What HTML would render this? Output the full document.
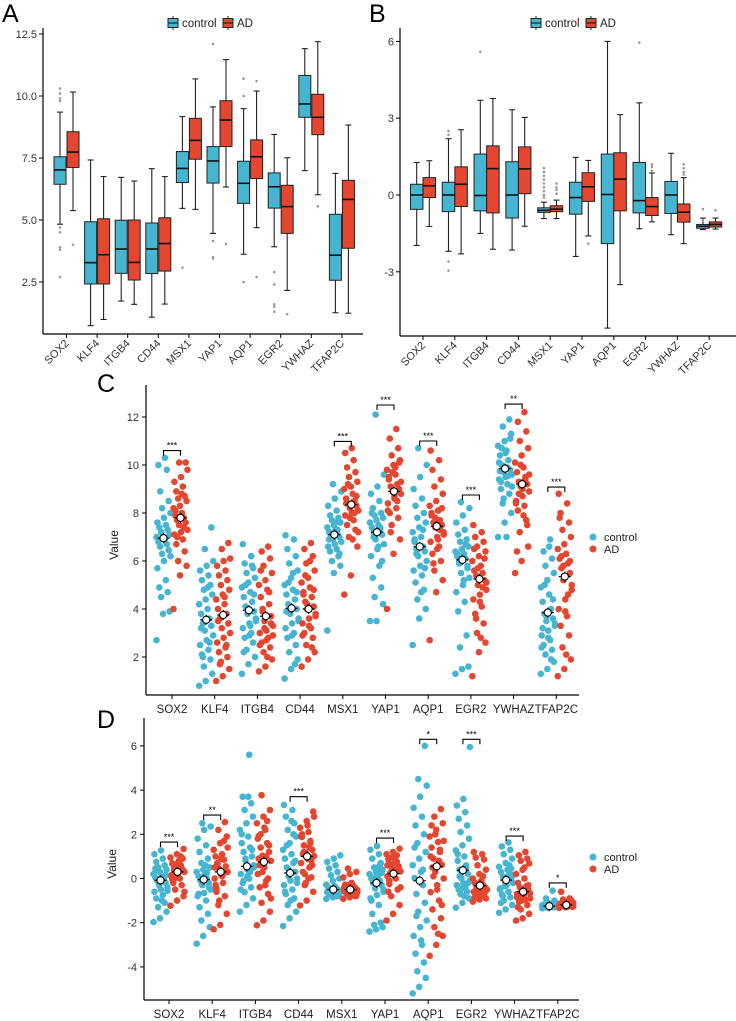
<!DOCTYPE html>
<html><head><meta charset="utf-8">
<style>
html,body{margin:0;padding:0;background:#fff;}
svg{display:block;font-family:"Liberation Sans",Arial,sans-serif;}
</style></head>
<body>
<svg id="fig" width="736" height="1021" viewBox="0 0 736 1021" xmlns="http://www.w3.org/2000/svg"></svg>
<script>
// ---------- shared categories ----------
const genes = ["SOX2","KLF4","ITGB4","CD44","MSX1","YAP1","AQP1","EGR2","YWHAZ","TFAP2C"];
const groups = ["control","AD"];
// ---------- panel A box stats [low, q1, median, q3, high] ----------
const aCtrlBox = [[4.83,6.44,7.02,7.55,9.35],[0.74,2.42,3.28,4.93,7.42],[1.73,2.85,3.83,4.99,6.72],[1.08,2.84,3.83,4.88,7.07],[5.47,6.51,7.08,7.76,9.17],[4.46,6.49,7.38,7.96,9.56],[3.62,5.67,6.48,7.37,9.49],[3.92,5.48,6.34,6.9,8.45],[6.99,9.14,9.68,10.83,11.91],[1.26,2.57,3.58,5.23,6.88]];
const aADBox = [[5.38,7.12,7.74,8.56,10.16],[0.99,2.42,3.6,5.05,6.75],[1.6,2.58,3.29,5.0,6.57],[1.61,2.94,4.05,5.09,6.75],[5.43,7.45,8.21,9.1,10.69],[6.33,7.96,9.03,9.81,11.47],[4.69,6.67,7.55,8.23,10.2],[2.16,4.46,5.54,6.4,7.51],[6.02,8.44,9.14,10.07,12.19],[1.24,3.86,5.83,6.6,8.83]];
const aCtrlOut = [[10.3,10.1,9.9,9.8,4.7,4.5,3.9,3.8,2.7],[],[],[],[3.08],[12.1,4.15,3.5,3.45],[10.7,10.0,2.5],[2.9,2.4,1.6,1.5,1.3],[],[]];
const aADOut = [[4.0],[],[],[],[],[4.03],[10.6,2.7],[1.2],[5.55],[]];
// ---------- panel B box stats ----------
const bCtrlBox = [[-1.97,-0.56,0,0.42,1.27],[-2.2,-0.65,0,0.5,2.2],[-1.5,-0.62,-0.02,1.6,3.7],[-2.15,-0.9,0,1.3,3.33],[-0.92,-0.68,-0.6,-0.5,-0.28],[-2.4,-0.75,-0.1,0.5,1.47],[-5.2,-1.9,0.02,1.6,6.0],[-1.32,-0.7,-0.22,1.27,3.6],[-1.55,-0.72,0,0.53,1.63],[-1.35,-1.3,-1.22,-1.15,-0.9]];
const bADBox = [[-1.23,-0.1,0.36,0.68,1.34],[-2.3,-0.45,0.42,1.1,2.55],[-2.12,-0.7,1.03,1.92,3.77],[-1.22,0.05,1.02,1.88,3.03],[-0.92,-0.65,-0.55,-0.42,-0.2],[-1.6,-0.25,0.32,0.87,1.35],[-3.5,-0.62,0.62,1.65,3.14],[-1.05,-0.8,-0.45,-0.1,0.86],[-1.9,-1.06,-0.67,-0.35,0.68],[-1.33,-1.25,-1.15,-1.05,-0.9]];
const bCtrlOut = [[],[2.5,2.35,-2.6,-2.95],[5.6],[],[1.05,0.9,0.75,0.6,0.45,0.3,0.15,0.0,-0.1],[],[],[5.95],[],[-0.55,-1.0]];
const bADOut = [[],[],[],[],[0.45,0.3,0.2,0.05],[-1.9],[],[1.2,1.1,0.95],[1.2,1.05,0.9,0.8],[-0.6]];
// ---------- panel C points ----------
const cCtrl = [
[2.7,3.8,3.9,4.5,4.7,4.9,5.2,5.7,6.0,6.2,6.3,6.45,6.6,6.7,6.8,6.9,7.0,7.0,7.1,7.2,7.3,7.4,7.5,7.6,7.8,8.0,8.2,8.5,8.9,9.8,10.0,10.3],
[0.8,1.0,1.3,1.6,1.9,2.1,2.3,2.5,2.7,2.9,3.1,3.3,3.4,3.6,3.8,4.0,4.2,4.4,4.6,4.8,5.0,5.2,5.4,5.6,5.8,6.0,6.5,7.4,2.0,2.6,3.2,4.9],
[1.3,1.7,2.0,2.3,2.6,2.8,3.0,3.2,3.4,3.6,3.8,3.9,4.1,4.3,4.5,4.7,4.9,5.1,5.3,5.5,5.7,5.9,6.2,6.7,2.9,3.5,4.0,4.6,5.0,5.8,2.2,3.3],
[1.1,1.5,1.9,2.2,2.5,2.8,3.0,3.2,3.4,3.6,3.8,4.0,4.2,4.4,4.6,4.8,5.0,5.3,5.6,5.9,6.2,6.5,6.9,7.07,2.9,3.5,4.1,4.7,5.1,1.7,3.9,5.5],
[3.1,5.5,5.8,6.0,6.2,6.4,6.5,6.6,6.7,6.8,6.9,7.0,7.05,7.1,7.2,7.3,7.4,7.5,7.6,7.7,7.8,7.9,8.1,8.3,8.6,8.9,9.2,6.3,7.0,7.3,6.9,7.6],
[3.5,3.5,4.2,4.5,4.9,5.3,5.8,6.2,6.5,6.7,6.9,7.1,7.2,7.3,7.4,7.5,7.6,7.7,7.8,7.9,8.0,8.2,8.5,8.8,9.1,9.6,12.1,6.0,7.0,7.4,8.0,6.6],
[2.5,3.6,4.0,4.4,4.8,5.1,5.4,5.6,5.8,6.0,6.2,6.4,6.5,6.6,6.8,7.0,7.2,7.4,7.6,7.8,8.0,8.3,8.6,9.0,9.5,10.0,10.7,5.7,6.3,7.3,6.9,4.7],
[1.3,1.5,1.6,2.4,2.9,3.9,4.3,4.7,5.0,5.3,5.5,5.7,5.9,6.1,6.2,6.3,6.4,6.5,6.6,6.8,6.9,7.1,7.3,7.6,7.9,8.2,8.45,5.8,6.0,6.7,6.3,5.2],
[7.0,7.6,8.0,8.4,8.8,9.0,9.2,9.4,9.5,9.6,9.7,9.8,10.0,10.2,10.4,10.6,10.8,11.0,11.3,11.6,11.9,9.3,9.9,10.1,10.5,9.1,8.6,11.1,10.7,9.55,9.75,7.0],
[1.3,1.5,1.8,2.1,2.3,2.5,2.7,2.9,3.1,3.3,3.5,3.6,3.8,4.0,4.3,4.6,4.9,5.2,5.5,5.8,6.1,6.4,6.9,2.4,2.8,3.4,3.7,4.4,5.0,1.9,3.2,6.6]];
const cAD = [
[4.0,5.4,5.8,6.0,6.4,6.7,6.9,7.1,7.2,7.3,7.5,7.6,7.7,7.8,7.9,8.0,8.2,8.3,8.5,8.6,8.7,8.9,9.1,9.3,9.5,9.8,10.1,10.1,7.0,7.4,8.1,8.8],
[1.0,1.2,1.5,1.8,2.0,2.2,2.4,2.6,2.8,3.0,3.2,3.4,3.6,3.8,4.0,4.2,4.4,4.6,4.8,5.0,5.2,5.4,5.6,5.8,6.0,6.1,6.5,6.75,1.7,2.5,3.5,4.5],
[1.4,1.6,1.9,2.2,2.4,2.6,2.8,3.0,3.1,3.3,3.5,3.7,3.9,4.2,4.5,4.8,5.0,5.2,5.5,5.8,6.1,6.4,6.6,2.5,2.7,2.9,3.2,3.4,4.0,4.7,5.6,2.0],
[1.6,1.9,2.2,2.5,2.8,3.0,3.2,3.4,3.6,3.8,4.0,4.1,4.3,4.5,4.7,4.9,5.1,5.3,5.6,5.9,6.2,6.5,6.75,2.9,3.3,3.7,4.2,4.8,5.4,2.4,4.6,6.0],
[4.6,5.4,6.6,7.0,7.3,7.5,7.7,7.9,8.0,8.1,8.2,8.3,8.4,8.5,8.6,8.8,9.0,9.1,9.3,9.5,9.7,9.9,10.2,10.5,10.7,7.2,7.8,8.7,9.2,8.0,8.4,6.9],
[4.0,6.3,6.9,7.5,7.8,8.0,8.2,8.4,8.6,8.8,8.9,9.0,9.1,9.2,9.4,9.6,9.8,10.0,10.2,10.4,10.7,11.1,11.5,8.1,8.7,9.3,9.7,10.1,7.2,8.5,9.5,9.9],
[2.7,4.7,5.2,5.6,6.0,6.3,6.6,6.8,7.0,7.2,7.4,7.5,7.6,7.7,7.9,8.1,8.3,8.5,8.8,9.1,9.4,9.8,10.2,10.6,6.5,7.1,7.8,8.2,5.9,7.3,8.0,6.9],
[1.2,2.2,2.6,3.0,3.4,3.8,4.1,4.4,4.6,4.8,5.0,5.2,5.4,5.5,5.6,5.8,6.0,6.2,6.4,6.6,6.8,7.0,7.2,7.5,4.3,5.1,5.7,6.1,3.6,4.9,6.5,2.8],
[5.5,6.0,6.6,7.2,7.7,8.1,8.3,8.5,8.7,8.9,9.1,9.2,9.3,9.5,9.7,9.9,10.1,10.4,10.7,11.0,11.4,11.8,12.2,8.4,9.0,9.6,10.0,7.5,8.8,9.4,6.4,7.9],
[1.2,1.5,1.9,2.4,2.9,3.3,3.7,4.0,4.4,4.8,5.2,5.5,5.7,5.9,6.1,6.3,6.5,6.7,7.0,7.3,7.6,8.0,8.4,8.8,3.9,5.0,5.8,6.0,6.2,4.6,7.8,2.1]];
const cCtrlMean = [6.95,3.55,3.95,4.03,7.1,7.2,6.6,6.05,9.85,3.85];
const cADMean = [7.8,3.75,3.7,4.0,8.35,8.9,7.45,5.25,9.2,5.35];
const cSig = ["***","","","","***","***","***","***","**","***"];
const cSigY = [10.6,0,0,0,10.98,12.5,11.0,8.75,12.54,9.08];
const cTicks = [2,4,6,8,10,12];
// ---------- panel D points ----------
const dCtrl = [
[-1.97,-1.8,-1.5,-1.3,-1.1,-0.9,-0.75,-0.6,-0.5,-0.4,-0.3,-0.2,-0.1,0,0.05,0.1,0.2,0.3,0.4,0.5,0.6,0.75,0.9,1.1,1.27,-0.55,-0.25,0.15,0.35,-0.05,0.45,-1.0],
[-2.95,-2.6,-2.2,-1.9,-1.6,-1.3,-1.0,-0.8,-0.65,-0.5,-0.3,-0.2,-0.1,0,0.1,0.2,0.3,0.4,0.5,0.7,0.9,1.2,1.5,1.8,2.2,2.35,2.5,-0.4,0.05,0.25,-0.7,0.6],
[-1.5,-1.2,-0.9,-0.62,-0.4,-0.2,0,0.2,0.4,0.6,0.8,1.0,1.2,1.4,1.6,1.9,2.2,2.5,2.8,3.1,3.4,3.7,5.6,-0.5,0.1,0.5,0.9,1.3,-0.1,0.3,2.0,3.7],
[-2.15,-1.8,-1.5,-1.2,-0.9,-0.7,-0.5,-0.3,-0.1,0,0.1,0.3,0.5,0.7,0.9,1.1,1.3,1.6,1.9,2.2,2.5,2.8,3.1,3.33,-1.0,-0.2,0.4,0.8,1.5,2.0,-0.6,2.6],
[-0.92,-0.85,-0.8,-0.75,-0.7,-0.68,-0.65,-0.62,-0.6,-0.58,-0.55,-0.52,-0.5,-0.45,-0.4,-0.35,-0.28,-0.1,0.0,0.15,0.3,0.45,0.6,0.75,0.9,1.05,-0.6,-0.7,-0.5,-0.8,-0.4,-0.65],
[-2.4,-2.3,-2.2,-2.1,-2.0,-1.6,-1.2,-0.9,-0.75,-0.6,-0.45,-0.3,-0.2,-0.1,0,0.1,0.2,0.3,0.4,0.5,0.7,0.9,1.1,1.3,1.47,-0.5,0.05,0.25,-0.15,0.6,-1.0,0.35],
[-5.2,-4.9,-4.5,-4.2,-3.8,-3.4,-3.0,-2.6,-2.2,-1.9,-1.5,-1.1,-0.7,-0.3,0.02,0.3,0.6,0.9,1.2,1.6,2.0,2.4,2.8,3.2,3.7,4.2,4.5,6.0,-1.7,0.4,1.4,-2.8],
[-1.32,-1.1,-0.9,-0.7,-0.6,-0.5,-0.4,-0.3,-0.22,-0.1,0,0.2,0.4,0.6,0.8,1.0,1.27,1.5,1.8,2.1,2.4,2.7,3.0,3.3,3.6,5.95,-0.45,-0.2,0.1,0.5,1.1,-0.8],
[-1.55,-1.4,-1.2,-1.0,-0.85,-0.72,-0.6,-0.45,-0.3,-0.2,-0.1,0,0.1,0.2,0.3,0.4,0.53,0.7,0.9,1.1,1.3,1.45,1.63,-0.5,-0.05,0.15,-0.35,0.45,-0.8,0.6,-1.1,0.05],
[-1.35,-1.33,-1.3,-1.28,-1.25,-1.22,-1.2,-1.18,-1.15,-1.12,-1.1,-1.0,-0.9,-0.55,-1.27,-1.23,-1.21,-1.19,-1.26,-1.24,-1.3,-1.17,-1.14,-1.29,-1.2,-1.25,-1.32,-1.22,-1.16,-1.28,-1.21,-1.24]];
const dAD = [
[-1.23,-1.0,-0.8,-0.5,-0.3,-0.1,0,0.1,0.2,0.3,0.35,0.4,0.5,0.6,0.68,0.8,0.95,1.1,1.34,0.25,0.45,-0.2,0.55,0.15,0.7,-0.6,0.05,0.9,0.38,1.0,-0.05,0.62],
[-2.3,-2.1,-1.6,-1.2,-0.8,-0.45,-0.2,0,0.15,0.3,0.42,0.55,0.7,0.85,1.0,1.1,1.3,1.6,1.9,2.2,2.55,-0.6,0.2,0.5,0.9,1.4,-1.0,0.35,0.65,1.7,-0.3,0.1],
[-2.12,-1.9,-1.5,-1.1,-0.7,-0.4,-0.1,0.2,0.5,0.8,1.03,1.2,1.4,1.6,1.92,2.2,2.5,2.8,3.1,3.77,0.0,0.6,1.0,1.8,2.3,-0.9,0.3,1.5,2.0,2.6,0.9,-0.3],
[-1.22,-1.0,-0.6,-0.3,0.05,0.3,0.5,0.7,0.9,1.02,1.15,1.3,1.5,1.7,1.88,2.1,2.3,2.6,3.03,0.2,0.8,1.1,1.4,1.9,2.4,2.8,-0.2,0.6,1.2,1.6,2.0,0.0],
[-0.92,-0.85,-0.78,-0.72,-0.68,-0.65,-0.6,-0.57,-0.55,-0.52,-0.48,-0.45,-0.42,-0.35,-0.28,-0.2,0.05,0.2,0.3,0.45,-0.6,-0.5,-0.7,-0.4,-0.55,-0.62,-0.3,-0.8,-0.5,-0.45,-0.58,-0.66],
[-1.9,-1.6,-1.2,-0.8,-0.5,-0.25,0,0.1,0.2,0.32,0.45,0.55,0.65,0.75,0.87,1.0,1.1,1.2,1.35,0.3,0.4,-0.1,0.8,0.6,0.15,-0.4,0.95,0.5,0.25,1.05,-0.6,0.7],
[-3.5,-3.0,-2.6,-2.2,-1.8,-1.4,-1.0,-0.62,-0.3,0,0.3,0.62,0.9,1.2,1.4,1.65,1.9,2.2,2.5,2.8,3.14,0.5,0.8,1.0,-0.5,1.7,2.0,-1.2,0.1,1.3,2.4,-2.5],
[-1.05,-0.95,-0.9,-0.85,-0.8,-0.7,-0.65,-0.6,-0.55,-0.5,-0.45,-0.4,-0.35,-0.3,-0.2,-0.1,0,0.2,0.4,0.6,0.86,0.95,1.1,1.2,-0.75,-0.5,-0.25,-0.6,-0.42,0.1,-0.85,-0.3],
[-1.9,-1.8,-1.6,-1.4,-1.2,-1.06,-0.95,-0.85,-0.75,-0.67,-0.6,-0.5,-0.4,-0.35,-0.2,0,0.2,0.4,0.68,0.8,0.9,1.05,1.2,-0.7,-0.55,-0.9,-1.0,-0.3,-0.8,-0.62,-1.3,0.5],
[-1.33,-1.3,-1.28,-1.25,-1.22,-1.2,-1.18,-1.15,-1.12,-1.1,-1.05,-1.0,-0.95,-0.9,-0.6,-1.27,-1.23,-1.19,-1.16,-1.13,-1.08,-1.21,-1.24,-1.14,-1.17,-1.26,-1.11,-1.2,-1.15,-1.02,-1.18,-1.22]];
const dCtrlMean = [-0.08,-0.05,0.55,0.25,-0.5,-0.2,-0.1,0.37,-0.07,-1.25];
const dADMean = [0.3,0.3,0.75,1.0,-0.5,0.22,0.55,-0.32,-0.6,-1.2];
const dSig = ["***","**","","***","","***","*","***","***","*"];
const dSigY = [1.65,2.87,0,3.7,0,1.83,6.3,6.3,1.92,-0.2];
const dTicks = [-4,-2,0,2,4,6];
const aTicks = [2.5,5.0,7.5,10.0,12.5];
const bTicks = [-3,0,3,6];

const CT = "#46B5D2", AD = "#E4462F";
const svg = document.getElementById('fig');
const NS = "http://www.w3.org/2000/svg";
function mk(tag, attrs, parent){
  const e = document.createElementNS(NS, tag);
  for (const k in attrs) e.setAttribute(k, attrs[k]);
  (parent||svg).appendChild(e);
  return e;
}
function txt(s, attrs, parent){ const t = mk('text', attrs, parent); t.textContent = s; return t; }

// ---------- letters ----------
[["A",2,22],["B",369,22],["C",97,392],["D",97,728]].forEach(function(L){
  const t = txt(L[0], {x:L[1], y:L[2], 'font-size':25, fill:'#000'});
  
  
});

// ---------- box legend ----------
function boxLegend(x, y, key){
  const g = mk('g', {});
  
  
  [[CT,'control',0],[AD,'AD',55]].forEach(function(it){
    const gg = mk('g', {}, g);
    
    
    const lx = x + it[2];
    mk('line', {x1:lx+5, x2:lx+5, y1:y-7, y2:y+7, stroke:'#222','stroke-width':1}, gg);
    mk('rect', {x:lx, y:y-4.5, width:10, height:9, fill:it[0], stroke:'#222','stroke-width':1}, gg);
    mk('line', {x1:lx, x2:lx+10, y1:y, y2:y, stroke:'#222','stroke-width':1.2}, gg);
    txt(it[1], {x:lx+14, y:y+4, 'font-size':11.5, fill:'#222'}, gg);
  });
}

// ---------- box panel ----------
function boxPanel(key, ys, axX, axTop, axBot, xEnd, c0, step, dodge, bw, ticks, fmt, ctrlBox, adBox, ctrlOut, adOut){
  const g = mk('g', {});
  
  
  const cx = function(i){ return c0 + step*i; };
  const ya = mk('line', {x1:axX, x2:axX, y1:axTop, y2:axBot, stroke:'#000','stroke-width':1.2}, g);
  
  
  const xa = mk('line', {x1:axX, x2:xEnd, y1:axBot, y2:axBot, stroke:'#000','stroke-width':1.2}, g);
  
  
  ticks.forEach(function(v){
    mk('line', {x1:axX-4, x2:axX, y1:ys(v), y2:ys(v), stroke:'#000'}, g);
    const t = txt(fmt(v), {x:axX-6, y:ys(v)+4, 'font-size':11, 'text-anchor':'end', fill:'#333'}, g);
    
    
  });
  genes.forEach(function(gn, i){
    const x = cx(i);
    mk('line', {x1:x, x2:x, y1:axBot, y2:axBot+4, stroke:'#000'}, g);
    const t = txt(gn, {x:x+3, y:axBot+10, 'font-size':11, 'text-anchor':'end', fill:'#333', transform:'rotate(-45 '+(x+3)+' '+(axBot+10)+')'}, g);
    
    
    [[ctrlBox[i], ctrlOut[i], -dodge, CT, 'control'], [adBox[i], adOut[i], dodge, AD, 'ad']].forEach(function(b){
      const s = b[0], bx = x + b[2];
      const bg = mk('g', {}, g);
      
      
      mk('line', {x1:bx, x2:bx, y1:ys(s[0]), y2:ys(s[4]), stroke:'#222','stroke-width':1.1}, bg);
      mk('line', {x1:bx-3, x2:bx+3, y1:ys(s[0]), y2:ys(s[0]), stroke:'#222','stroke-width':1.1}, bg);
      mk('line', {x1:bx-3, x2:bx+3, y1:ys(s[4]), y2:ys(s[4]), stroke:'#222','stroke-width':1.1}, bg);
      mk('rect', {x:bx-bw/2, y:ys(s[3]), width:bw, height:Math.max(0.5, ys(s[1])-ys(s[3])), fill:b[3], stroke:'#222','stroke-width':1}, bg);
      mk('line', {x1:bx-bw/2, x2:bx+bw/2, y1:ys(s[2]), y2:ys(s[2]), stroke:'#111','stroke-width':1.6}, bg);
      b[1].forEach(function(o){
        mk('circle', {cx:bx, cy:ys(o), r:1.3, fill:'#9a9a9a'}, bg);
      });
    });
  });
}

// ---------- dot panel ----------
function dotPanel(key, ys, axX, axTop, axBot, xEnd, c0, step, dodge, ticks, ctrl, ad, cm, am, sig, sigY, legY){
  const g = mk('g', {});
  
  
  const cx = function(i){ return c0 + step*i; };
  const ya = mk('line', {x1:axX, x2:axX, y1:axTop, y2:axBot, stroke:'#000','stroke-width':1.2}, g);
  
  
  const xa = mk('line', {x1:axX, x2:xEnd, y1:axBot, y2:axBot, stroke:'#000','stroke-width':1.2}, g);
  
  
  ticks.forEach(function(v){
    mk('line', {x1:axX-4, x2:axX, y1:ys(v), y2:ys(v), stroke:'#000'}, g);
    const t = txt(String(v), {x:axX-7, y:ys(v)+4, 'font-size':11, 'text-anchor':'end', fill:'#333'}, g);
    
    
  });
  const yt = txt('Value', {x:0, y:0, 'font-size':12, 'text-anchor':'middle', fill:'#222', transform:'translate('+(axX-28)+','+((axTop+axBot)/2+5)+') rotate(-90)'}, g);
  
  
  genes.forEach(function(gn, i){
    const x = cx(i);
    mk('line', {x1:x, x2:x, y1:axBot, y2:axBot+4, stroke:'#000'}, g);
    const t = txt(gn, {x:x, y:axBot+18, 'font-size':11.5, 'text-anchor':'middle', fill:'#222'}, g);
    
    
    [[ctrl[i], -dodge, CT, 'control'], [ad[i], dodge, AD, 'ad']].forEach(function(s){
      const sg = mk('g', {}, g);
      
      
      s[0].forEach(function(v, j){
        const off = (((j*7) % 16) / 15 - 0.5) * 14;
        mk('circle', {cx:x + s[1] + off, cy:ys(v), r:3.3, fill:s[2]}, sg);
      });
    });
    [[cm[i], -dodge], [am[i], dodge]].forEach(function(m){
      const mg = mk('g', {}, g);
      
      
      const mx = x + m[1], my = ys(m[0]);
      mk('line', {x1:mx-6, x2:mx+6, y1:my, y2:my, stroke:'#000','stroke-width':1.2}, mg);
      mk('line', {x1:mx, x2:mx, y1:my-5, y2:my+5, stroke:'#000','stroke-width':1.2}, mg);
      mk('circle', {cx:mx, cy:my, r:3.6, fill:'#fff', stroke:'#000','stroke-width':1.1}, mg);
    });
    if (sig[i]) {
      const sg = mk('g', {}, g);
      
      
      const by = ys(sigY[i]);
      mk('path', {d:'M'+(x-dodge)+' '+(by+5)+'V'+by+'H'+(x+dodge)+'V'+(by+5), fill:'none', stroke:'#000','stroke-width':1.1}, sg);
      txt(sig[i], {x:x, y:by-2, 'font-size':9, 'text-anchor':'middle', fill:'#000'}, sg);
    }
  });
  const lg = mk('g', {}, g);
  
  
  [[CT,'control',0],[AD,'AD',12]].forEach(function(it){
    const e = mk('g', {}, lg);
    
    
    mk('circle', {cx:593, cy:legY+it[2], r:3.5, fill:it[0]}, e);
    txt(it[1], {x:604, y:legY+it[2]+4, 'font-size':11, fill:'#222'}, e);
  });
}

boxLegend(168, 23, 'a');
boxLegend(531, 23, 'b');
boxPanel('a', function(v){return 34 + (12.5 - v)*24.8;}, 43, 28, 334, 363, 66.5, 30.6, 6.5, 12, aTicks, function(v){return v.toFixed(1);}, aCtrlBox, aADBox, aCtrlOut, aADOut);
boxPanel('b', function(v){return 195 - v*25.6;}, 400, 28, 336, 736, 423, 31.8, 6.3, 12.5, bTicks, function(v){return String(v);}, bCtrlBox, bADBox, bCtrlOut, bADOut);
dotPanel('c', function(v){return 705 - v*24;}, 146, 385, 695, 579, 172, 42.7, 8.5, cTicks, cCtrl, cAD, cCtrlMean, cADMean, cSig, cSigY, 537);
dotPanel('d', function(v){return 878.5 - v*22.1;}, 144, 718, 1000, 579, 169, 43.2, 8.5, dTicks, dCtrl, dAD, dCtrlMean, dADMean, dSig, dSigY, 857);
</script>
</body></html>
